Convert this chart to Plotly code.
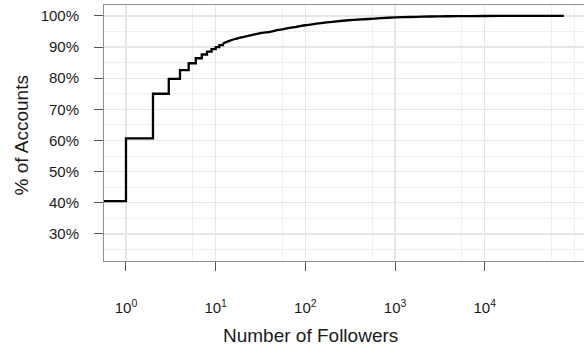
import plotly.graph_objects as go

# Step part of the ECDF (integer follower counts), percent of accounts
step_followers = [0.3, 1, 2, 3, 4, 5, 6, 7, 8, 9, 10, 11, 12]
step_pct = [40.5, 60.7, 75.0, 79.8, 82.6, 84.8, 86.4, 87.6, 88.5, 89.3, 90.0,
            90.6, 91.1]
# Smooth tail of the ECDF
tail_followers = [12, 14, 16, 18, 20, 25, 30, 40, 50, 60, 80, 100, 150, 200,
                  300, 400, 500, 700, 1000, 1500, 2000, 3000, 5000, 10000,
                  20000, 76000]
tail_pct = [91.1, 91.9, 92.5, 92.9, 93.2, 93.8, 94.3, 94.9, 95.5, 95.9, 96.5,
            97.0, 97.7, 98.1, 98.6, 98.85, 99.0, 99.3, 99.5, 99.65, 99.75,
            99.85, 99.92, 99.97, 99.99, 100.0]

x_tick_vals = [1, 10, 100, 1000, 10000]
x_tick_text = ["10<sup>0</sup>", "10<sup>1</sup>", "10<sup>2</sup>",
               "10<sup>3</sup>", "10<sup>4</sup>"]
x_minor_vals = [5.57, 55.7, 557, 5570, 55700, 100000]
y_tick_vals = [30, 40, 50, 60, 70, 80, 90, 100]
y_tick_text = ["30%", "40%", "50%", "60%", "70%", "80%", "90%", "100%"]
y_minor_vals = [25, 35, 45, 55, 65, 75, 85, 95]

FONT = "Liberation Sans, Arial, Helvetica, sans-serif"

fig = go.Figure()
fig.add_trace(go.Scatter(
    x=step_followers, y=step_pct, mode="lines",
    line=dict(color="black", width=2.3, shape="hv"),
    showlegend=False, hoverinfo="skip",
))
fig.add_trace(go.Scatter(
    x=tail_followers, y=tail_pct, mode="lines",
    line=dict(color="black", width=2.3, shape="spline", smoothing=0.6),
    showlegend=False, hoverinfo="skip",
))

fig.update_layout(
    width=584, height=351,
    margin=dict(l=104, r=0, t=5, b=90),
    paper_bgcolor="white", plot_bgcolor="white",
    font=dict(family=FONT, color="#1a1a1a"),
    hovermode=False,
    xaxis=dict(
        type="log", range=[-0.245, 5.106], automargin=False,
        tickmode="array", tickvals=x_tick_vals, ticktext=x_tick_text,
        ticks="outside", ticklen=9, tickwidth=1, tickcolor="#555555",
        tickfont=dict(size=15, family=FONT, color="#1a1a1a"),
        ticklabelstandoff=24,
        showline=True, linecolor="#8f8f8f", linewidth=1, mirror=True,
        showgrid=True, gridcolor="#e6e6e6", gridwidth=1.2,
        minor=dict(tickmode="array", tickvals=x_minor_vals, showgrid=True,
                   gridcolor="#efefef", gridwidth=1, ticks=""),
        zeroline=False,
    ),
    yaxis=dict(
        range=[21.3, 103.5], automargin=False,
        tickmode="array", tickvals=y_tick_vals, ticktext=y_tick_text,
        ticks="outside", ticklen=9, tickwidth=1, tickcolor="#555555",
        tickfont=dict(size=15, family=FONT, color="#1a1a1a"),
        ticklabelstandoff=12,
        showline=True, linecolor="#8f8f8f", linewidth=1, mirror=False,
        showgrid=True, gridcolor="#e6e6e6", gridwidth=1.2,
        minor=dict(tickmode="array", tickvals=y_minor_vals, showgrid=True,
                   gridcolor="#efefef", gridwidth=1, ticks=""),
        zeroline=False,
    ),
    annotations=[
        dict(text="Number of Followers", xref="paper", yref="paper",
             x=0.431, y=-0.29, xanchor="center", yanchor="middle",
             showarrow=False, font=dict(size=19, family=FONT, color="#1a1a1a")),
        dict(text="% of Accounts", xref="paper", yref="paper",
             x=-0.171, y=0.49, xanchor="center", yanchor="middle",
             textangle=-90, showarrow=False,
             font=dict(size=19, family=FONT, color="#1a1a1a")),
    ],
)

fig.write_html(
    "out.html",
    config={"displayModeBar": False, "staticPlot": True},
    post_script="document.body.style.margin='0';document.body.style.padding='0';",
)
